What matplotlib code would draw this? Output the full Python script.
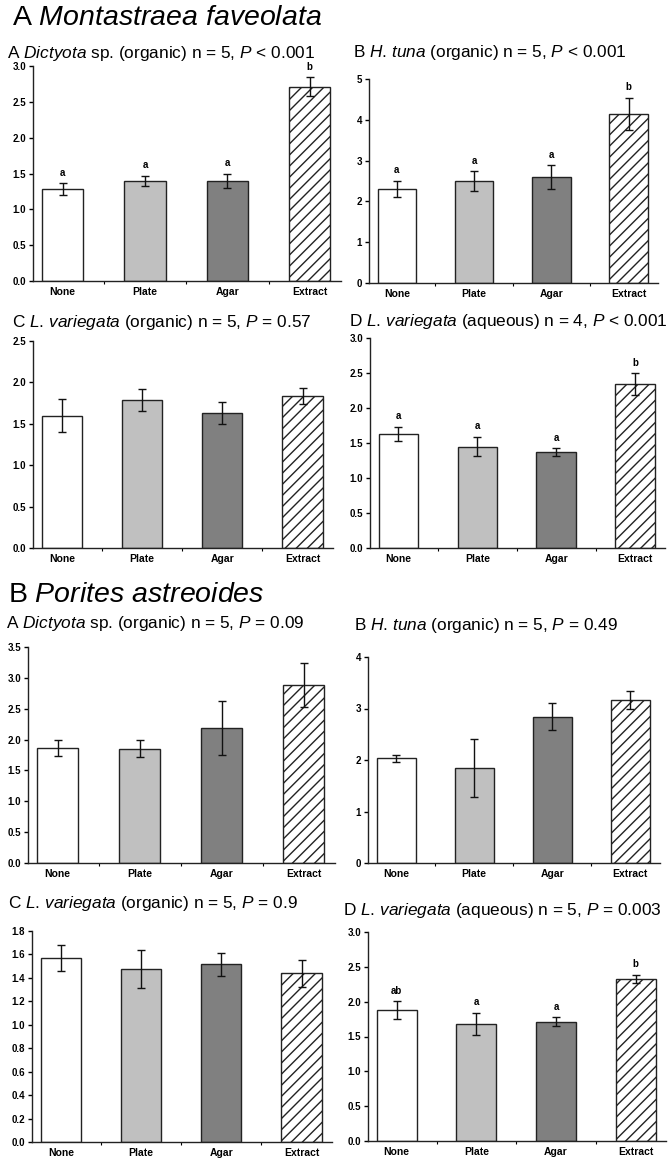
import numpy as np
import matplotlib
matplotlib.use('Agg')
import matplotlib.pyplot as plt

plt.rcParams['font.family'] = ['Liberation Sans', 'DejaVu Sans']
plt.rcParams['mathtext.fontset'] = 'custom'
plt.rcParams['mathtext.rm'] = 'Liberation Sans'
plt.rcParams['mathtext.it'] = 'Liberation Sans:italic'
plt.rcParams['hatch.linewidth'] = 1.0

# Data
#._____________________

categories = ['None', 'Plate', 'Agar', 'Extract']

# A Montastraea faveolata
mf_dic_mean = [1.28, 1.40, 1.40, 2.71]
mf_dic_err = [0.085, 0.07, 0.10, 0.13]
mf_dic_let = ['a', 'a', 'a', 'b']

mf_tuna_mean = [2.31, 2.49, 2.59, 4.14]
mf_tuna_err = [0.20, 0.245, 0.29, 0.40]
mf_tuna_let = ['a', 'a', 'a', 'b']

mf_lvorg_mean = [1.60, 1.79, 1.63, 1.84]
mf_lvorg_err = [0.20, 0.13, 0.13, 0.095]
mf_lvorg_let = None

mf_lvaq_mean = [1.63, 1.45, 1.37, 2.34]
mf_lvaq_err = [0.10, 0.14, 0.055, 0.155]
mf_lvaq_let = ['a', 'a', 'a', 'b']

# B Porites astreoides
pa_dic_mean = [1.87, 1.85, 2.19, 2.885]
pa_dic_err = [0.13, 0.14, 0.44, 0.355]
pa_dic_let = None

pa_tuna_mean = [2.03, 1.84, 2.84, 3.17]
pa_tuna_err = [0.06, 0.56, 0.26, 0.175]
pa_tuna_let = None

pa_lvorg_mean = [1.567, 1.474, 1.516, 1.44]
pa_lvorg_err = [0.112, 0.162, 0.10, 0.115]
pa_lvorg_let = None

pa_lvaq_mean = [1.875, 1.68, 1.713, 2.325]
pa_lvaq_err = [0.13, 0.16, 0.063, 0.063]
pa_lvaq_let = ['ab', 'a', 'a', 'b']

# Panel setup (pixel rect: left, top, right, bottom), y limit, ticks, subtitle
#._____________________

W, H = 672, 1161
panels = [
    ((33, 66, 341, 281), 3.0, np.arange(0, 3.01, 0.5), '%.1f', mf_dic_mean, mf_dic_err, mf_dic_let,
     r'A $\mathit{Dictyota}$ sp. (organic) n = 5, $\mathit{P}$ < 0.001', (7, 58)),
    ((369, 79, 658, 283), 5, np.arange(0, 5.1, 1), '%d', mf_tuna_mean, mf_tuna_err, mf_tuna_let,
     r'B $\mathit{H}$. $\mathit{tuna}$ (organic) n = 5, $\mathit{P}$ < 0.001', (353, 57)),
    ((33, 341, 333, 548), 2.5, np.arange(0, 2.51, 0.5), '%.1f', mf_lvorg_mean, mf_lvorg_err, mf_lvorg_let,
     r'C $\mathit{L}$. $\mathit{variegata}$ (organic) n = 5, $\mathit{P}$ = 0.57', (12, 327)),
    ((370, 338, 665, 548), 3.0, np.arange(0, 3.01, 0.5), '%.1f', mf_lvaq_mean, mf_lvaq_err, mf_lvaq_let,
     r'D $\mathit{L}$. $\mathit{variegata}$ (aqueous) n = 4, $\mathit{P}$ < 0.001', (349, 326)),
    ((28, 647, 335, 863), 3.5, np.arange(0, 3.51, 0.5), '%.1f', pa_dic_mean, pa_dic_err, pa_dic_let,
     r'A $\mathit{Dictyota}$ sp. (organic) n = 5, $\mathit{P}$ = 0.09', (6, 628)),
    ((368, 657, 660, 863), 4, np.arange(0, 4.1, 1), '%d', pa_tuna_mean, pa_tuna_err, pa_tuna_let,
     r'B $\mathit{H}$. $\mathit{tuna}$ (organic) n = 5, $\mathit{P}$ = 0.49', (354, 630)),
    ((32, 931, 332, 1142), 1.8, np.arange(0, 1.81, 0.2), '%.1f', pa_lvorg_mean, pa_lvorg_err, pa_lvorg_let,
     r'C $\mathit{L}$. $\mathit{variegata}$ (organic) n = 5, $\mathit{P}$ = 0.9', (8, 908)),
    ((368, 932, 666, 1141), 3.0, np.arange(0, 3.01, 0.5), '%.1f', pa_lvaq_mean, pa_lvaq_err, pa_lvaq_let,
     r'D $\mathit{L}$. $\mathit{variegata}$ (aqueous) n = 5, $\mathit{P}$ = 0.003', (343, 915)),
]

colors = ['white', '#c0c0c0', '#808080', 'white']
hatches = ['', '', '', '///']

fig = plt.figure(figsize=(W / 100, H / 100), dpi=100)

fig.text(12 / W, 1 - 25 / H, r'A $\mathit{Montastraea}$ $\mathit{faveolata}$', fontsize=20.5, va='baseline')
fig.text(8 / W, 1 - 602 / H, r'B $\mathit{Porites}$ $\mathit{astreoides}$', fontsize=20.5, va='baseline')

x = np.arange(len(categories))
for rect, ymax, ticks, fmt, mean, err, lets, title, tpos in panels:
    l, t, r, b = rect
    ax = fig.add_axes([l / W, 1 - b / H, (r - l) / W, (b - t) / H])
    bars = ax.bar(x, mean, width=0.5, color=colors, edgecolor='#222222', linewidth=1.0, zorder=2)
    for bar, h in zip(bars, hatches):
        bar.set_hatch(h)
    ax.errorbar(x, mean, yerr=err, fmt='none', ecolor='#111111', elinewidth=1.0, capsize=3, capthick=1.0, zorder=3)
    if lets:
        for xi, m, e, s in zip(x, mean, err, lets):
            ax.annotate(s, (xi, m + e), xytext=(0, 4), textcoords='offset points',
                        ha='center', va='bottom', fontsize=7, fontweight='bold')
    ax.set_xlim(-0.36, 3.38)
    ax.set_ylim(0, ymax)
    ax.set_yticks(ticks)
    ax.set_yticklabels([fmt % v for v in ticks], fontsize=7, fontweight='bold')
    ax.set_xticks(x)
    ax.set_xticklabels(categories, fontsize=7.5, fontweight='bold')
    ax.set_xticks([0.5, 1.5, 2.5], minor=True)
    ax.tick_params(axis='x', which='major', length=0, pad=4)
    ax.tick_params(axis='x', which='minor', length=2, width=0.8, direction='out')
    ax.tick_params(axis='y', length=3, width=1.0, direction='out', pad=2)
    for s in ['top', 'right']:
        ax.spines[s].set_visible(False)
    for s in ['left', 'bottom']:
        ax.spines[s].set_linewidth(1.0)
        ax.spines[s].set_color('#222222')
    fig.text(tpos[0] / W, 1 - tpos[1] / H, title, fontsize=12.4, va='baseline')

fig.savefig('out.png', dpi=100)
